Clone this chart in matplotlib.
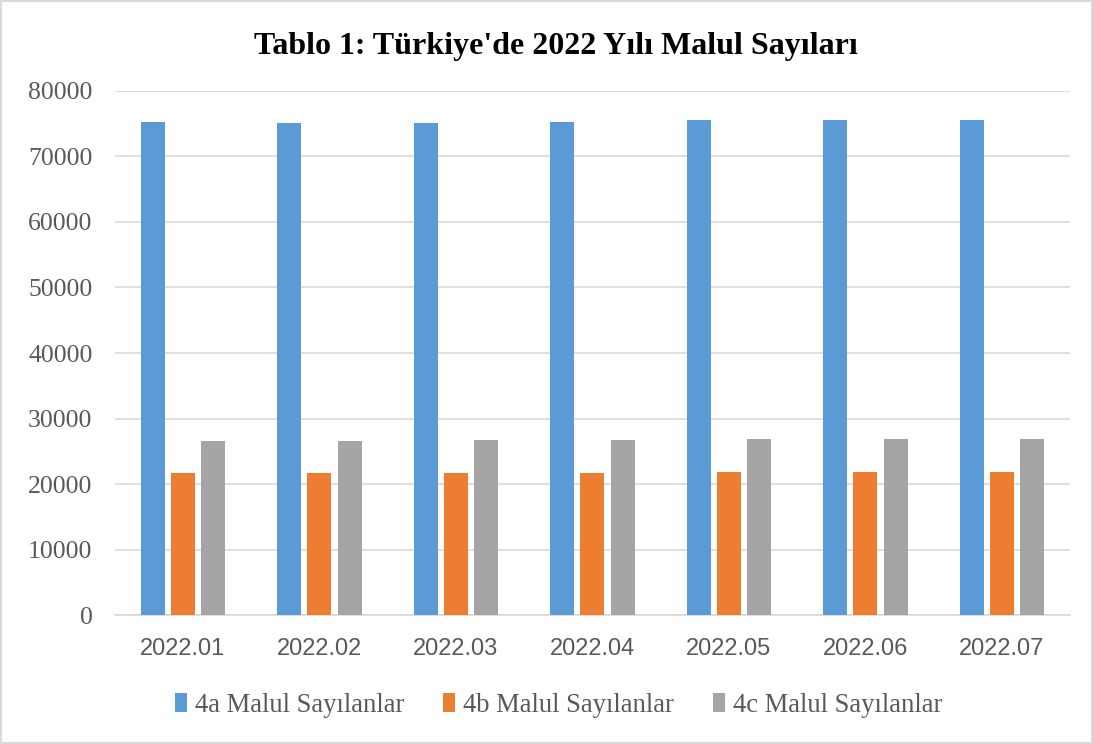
import matplotlib
matplotlib.use("Agg")
import matplotlib.pyplot as plt
import numpy as np
from matplotlib.patches import Rectangle

categories = ["2022.01", "2022.02", "2022.03", "2022.04", "2022.05", "2022.06", "2022.07"]
series_names = ["4a Malul Sayılanlar", "4b Malul Sayılanlar", "4c Malul Sayılanlar"]
s4a = [75220, 75120, 75070, 75220, 75570, 75570, 75470]
s4b = [21720, 21700, 21710, 21720, 21830, 21880, 21920]
s4c = [26650, 26650, 26760, 26760, 26860, 26860, 26860]
colors = ["#5B9BD5", "#ED7D31", "#A5A5A5"]
yticks = [0, 10000, 20000, 30000, 40000, 50000, 60000, 70000, 80000]

xfont = "Liberation Sans"
serif = "Liberation Serif"

fig = plt.figure(figsize=(10.93, 7.44), dpi=100)
ax = fig.add_axes([0.105, 0.173, 0.874, 0.705])

x = np.arange(len(categories))
w = 0.176
step = 0.222
for i, (vals, c) in enumerate(zip([s4a, s4b, s4c], colors)):
    ax.bar(x + (i - 1) * step, vals, width=w, color=c, label=series_names[i], zorder=3)

ax.set_xlim(-0.5, len(categories) - 0.5)
ax.set_ylim(0, 80000)
ax.set_yticks(yticks)
ax.set_yticklabels([str(v) for v in yticks], fontfamily=serif, fontsize=18.5, color="#595959")
ax.set_xticks(x)
ax.set_xticklabels(categories, fontfamily=xfont, fontsize=17, color="#595959")
ax.tick_params(axis="both", length=0)
ax.tick_params(axis="x", pad=16)
ax.tick_params(axis="y", pad=16)
ax.grid(axis="y", color="#D9D9D9", linewidth=1.2, zorder=0)
for s in ["top", "right", "left"]:
    ax.spines[s].set_visible(False)
ax.spines["bottom"].set_color("#D9D9D9")
ax.spines["bottom"].set_linewidth(1.2)

fig.text(0.509, 0.937, "Tablo 1: Türkiye'de 2022 Yılı Malul Sayıları", ha="center", va="center",
         fontfamily=serif, fontweight="bold", fontsize=23, color="black")

leg = fig.legend(loc="center", bbox_to_anchor=(0.511, 0.052), ncol=3, frameon=False,
                 prop={"family": serif, "size": 19.2}, handlelength=0.45, handleheight=0.7,
                 handletextpad=0.3, columnspacing=1.45)
for t in leg.get_texts():
    t.set_color("#595959")

fig.patches.append(Rectangle((0.001, 0.001), 0.998, 0.998, transform=fig.transFigure,
                             fill=False, edgecolor="#D9D9D9", linewidth=1.5))

fig.savefig("out.png", dpi=100)
